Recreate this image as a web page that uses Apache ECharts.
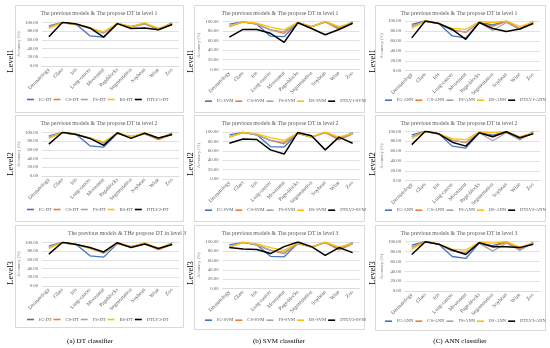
<!DOCTYPE html>
<html><head><meta charset="utf-8">
<script src="https://cdn.jsdelivr.net/npm/echarts@6/dist/echarts.min.js"></script>
<style>html,body{margin:0;padding:0;background:#fff}#c{width:550px;height:348px}</style>
</head><body><div id="c"></div>
<script>
// ---------- DATA ----------
const catsDT = ['Dermatology','Glass','Iris','Lung-cancer','Movement','Pageblocks','Segmentation','Soybean','Wine','Zoo'];
const catsOther = ['Dermatology','Glass','Iris','Lung-cancer','Movement','Page-blocks','Segmentation','Soybean','Wine','Zoo'];
const yTicks = [0,20,40,60,80,100];

// DT classifier
const igDT  = [92,100,95,69,66,97,90,97,84,99];
const csDT  = [88,99,95,87,76,97,90,97,83,95];
const fsDT  = [90,99,95,86,75,97,89,96,86,95];
const bsDT  = [86,100,95,86,78,98,90,99,86,97];
const dtlv1DT = [67,100,96,87,66,97,86,87,83,95];
const dtlv2DT = [73,100,95,86,70,99,86,98,87,95];
const dtlv3DT = [73,100,95,88,78,99,88,96,86,95];

// SVM classifier
const igSVM  = [94,99,94,69,68,97,89,99,85,99];
const csSVM  = [89,99,94,82,75,97,89,99,83,96];
const fsSVM  = [90,99,94,82,78,97,89,99,87,96];
const bsSVM  = [89,99,96,88,82,98,89,100,89,97];
const dtlv1SVM = [67,83,83,75,56,97,85,72,83,96];
const dtlv2SVM = [76,85,84,62,53,99,92,62,89,76];
const dtlv3SVM = [88,85,84,75,90,100,90,71,88,77];

// ANN classifier
const igANN  = [93,100,95,70,66,97,92,100,83,98];
const csANN  = [89,100,95,82,77,97,89,99,85,97];
const fsANN  = [89,99,95,81,78,97,81,97,83,100];
const bsANN  = [85,100,95,85,83,99,97,100,89,97];
const dtlv1ANN = [66,100,95,83,63,97,85,79,84,95];
const dtlv2ANN = [73,100,95,78,70,97,89,99,87,95];
const dtlv3ANN = [74,100,95,83,74,98,90,90,88,95];

const seriesColors = ['#4472C4','#ED7D31','#A5A5A5','#FFC000','#000000'];
const classifiers = ['DT','SVM','ANN'];
const captions = ['(a) DT classifier','(b) SVM classifier','(C) ANN classifier'];
const levelLabels = ['Level1','Level2','Level3'];
const titles = [
  ['The previous models & The propose DT in level 1','The previous models & The propose DT in level 1','The previous models & The propose DT in level 1'],
  ['The pervious models & The propose DT in level 2','The previous models & The propose DT in level 2','The previous models & The propose DT in level 2'],
  ['The previous models & THe propose DT in level 3','The previous models & The propose DT in level 3','The previous models & The propose DT in level 3']
];
const baseData = [[igDT,csDT,fsDT,bsDT],[igSVM,csSVM,fsSVM,bsSVM],[igANN,csANN,fsANN,bsANN]];
const levelData = [[dtlv1DT,dtlv2DT,dtlv3DT],[dtlv1SVM,dtlv2SVM,dtlv3SVM],[dtlv1ANN,dtlv2ANN,dtlv3ANN]];
const catsPerCol = [catsDT, catsOther, catsOther];

// ---------- LAYOUT ----------
const boxX = [[15,183],[194,364],[375,545]];
const boxY = [[[5,112],[5,112],[5,112]],[[115,221],[115,221],[115,221]],[[225,327],[225,329],[225,330]]];
const gridX = [[42,179],[222.5,359.5],[405,540]];
const gridY = [[[22.3,66],[21.3,69.3],[21,70.7]],[[132.3,176],[132,179],[131.3,180.7]],[[242.3,286],[242,288.3],[241.7,291]]];
const legendY = [[100,101.7,100.7],[210,210.7,210.7],[320,320.7,321.7]];
const legendX = [27,205,385];
const titleX = [99,280,459];
const titleY = [13.3,123.3,233.3];
const levelX = [11,191,373];
const levelY = [61,164,273];

const serif = '"Liberation Serif","Times New Roman",serif';
const grid=[], xAxis=[], yAxis=[], series=[], legend=[], graphic=[];
let idx=0;
for (let r=0;r<3;r++){
  for (let c=0;c<3;c++){
    const gx=gridX[c], gy=gridY[r][c];
    grid.push({left:gx[0], top:gy[0], width:gx[1]-gx[0], height:gy[1]-gy[0], containLabel:false});
    xAxis.push({type:'category', gridIndex:idx, data:catsPerCol[c], boundaryGap:true,
      axisLine:{show:true,lineStyle:{color:'#d9d9d9',width:0.8}}, axisTick:{show:false},
      axisLabel:{interval:0, rotate:45, fontSize:5.3, fontFamily:serif, color:'#595959', margin:3}});
    yAxis.push({type:'value', gridIndex:idx, min:0, max:100, interval:20,
      name:'Accuracy (%)', nameLocation:'middle', nameGap:19,
      nameTextStyle:{fontSize:4.5, color:'#7f7f7f', fontFamily:serif},
      axisLine:{show:false}, axisTick:{show:false},
      splitLine:{lineStyle:{color:'#d9d9d9',width:0.8}},
      axisLabel:{fontSize:4.7, fontFamily:serif, color:'#595959', margin:4, formatter:v=>v.toFixed(2)}});
    const cl = classifiers[c];
    const names = ['IG-'+cl,'CS-'+cl,'FS-'+cl,'BS-'+cl,'DTLV'+(r+1)+'-'+cl];
    const datas = [...baseData[c], levelData[c][r]];
    for (let s=0;s<5;s++){
      series.push({type:'line', name:names[s], xAxisIndex:idx, yAxisIndex:idx, data:datas[s],
        symbol:'none', smooth:false, z: 2+s,
        lineStyle:{color:seriesColors[s], width: s===4?1.5:1.3},
        itemStyle:{color:seriesColors[s]}});
    }
    legend.push({data:names, left:legendX[c], top:legendY[r][c]-3, width:200, itemWidth:7, itemHeight:1.6,
      icon:'rect', itemGap:2, textStyle:{fontSize:4.6, fontFamily:serif, color:'#595959'}, padding:0});
    const bx=boxX[c], by=boxY[r][c];
    graphic.push({type:'rect', shape:{x:bx[0]+0.5,y:by[0]+0.5,width:bx[1]-bx[0],height:by[1]-by[0]},
      style:{fill:'none',stroke:'#d9d9d9',lineWidth:1}, z:-1});
    const tx = (r===2 && c===0) ? 127 : titleX[c];
    graphic.push({type:'text', x:tx, y:titleY[r], style:{text:titles[r][c], font:'5.8px '+serif, fill:'#595959', textAlign:'center', textVerticalAlign:'middle'}});
    idx++;
  }
}
for (let c=0;c<3;c++){
  for (let r=0;r<3;r++){
    graphic.push({type:'text', x:levelX[c], y:levelY[r], rotation:Math.PI/2,
      style:{text:levelLabels[r], font:'8.5px '+serif, fill:'#000', textAlign:'center', textVerticalAlign:'middle'}});
  }
}
const capX=[90,279,460];
for (let c=0;c<3;c++){
  graphic.push({type:'text', x:capX[c], y:341, style:{text:captions[c], font:'7px '+serif, fill:'#000', textAlign:'center', textVerticalAlign:'middle'}});
}
const chart = echarts.init(document.getElementById('c'), null, {renderer:'canvas'});
chart.setOption({animation:false, backgroundColor:'#fff', grid, xAxis, yAxis, series, legend, graphic});
</script></body></html>
